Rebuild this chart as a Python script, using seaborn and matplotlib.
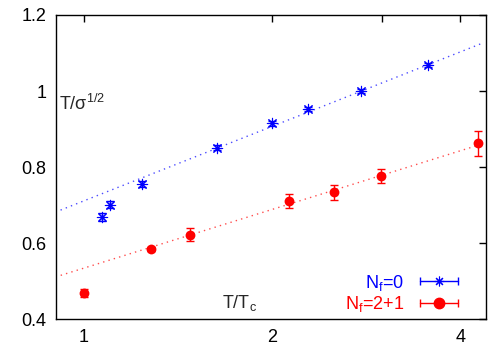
import numpy as np
import matplotlib
matplotlib.use("Agg")
import matplotlib.pyplot as plt
import seaborn as sns
from matplotlib.lines import Line2D
from matplotlib.legend_handler import HandlerLine2D

# Nf=0 (quenched)
t_nf0 = [1.067, 1.102, 1.238, 1.633, 2.0, 2.28, 2.77, 3.55]
y_nf0 = [0.668, 0.701, 0.755, 0.851, 0.915, 0.953, 1.0, 1.068]
e_nf0 = [0.011, 0.010, 0.008, 0.006, 0.006, 0.006, 0.006, 0.006]

# Nf=2+1
t_nf21 = [1.0, 1.279, 1.478, 2.13, 2.51, 2.99, 4.26]
y_nf21 = [0.468, 0.585, 0.622, 0.710, 0.733, 0.776, 0.862]
e_nf21 = [0.011, 0.005, 0.018, 0.018, 0.019, 0.018, 0.032]

# fit lines y = a + b*log2(T/Tc)
fit_nf0 = (0.711, 0.196)
fit_nf21 = (0.534, 0.1544)
fit_range = (0.9, 4.36)

x_ticks = [1, 2, 3, 4]
x_ticklabels = ["1", "2", "", "4"]
y_ticks = [0.4, 0.6, 0.8, 1.0, 1.2]
y_ticklabels = ["0.4", "0.6", "0.8", "1", "1.2"]

sns.set_style("white")
plt.rcParams["font.family"] = ["Liberation Sans", "DejaVu Sans"]
plt.rcParams["mathtext.fontset"] = "custom"
plt.rcParams["mathtext.rm"] = "Liberation Sans"
plt.rcParams["mathtext.it"] = "Liberation Sans"
plt.rcParams["font.size"] = 13

blue = "#0000ff"
red = "#ff0000"

fig = plt.figure(figsize=(4.98, 3.48), dpi=100)
ax = fig.add_axes([0.1124, 0.0833, 0.8629, 0.8736])
ax.set_xscale("log")

tt = np.geomspace(fit_range[0], fit_range[1], 100)
sns.lineplot(x=tt, y=fit_nf0[0] + fit_nf0[1] * np.log2(tt), ax=ax,
             color=blue, lw=1, ls=(0, (1, 3)), alpha=0.7)
sns.lineplot(x=tt, y=fit_nf21[0] + fit_nf21[1] * np.log2(tt), ax=ax,
             color=red, lw=1, ls=(0, (1, 3)), alpha=0.7)

ax.errorbar(t_nf0, y_nf0, yerr=e_nf0, fmt="none", ecolor=blue,
            elinewidth=1, capsize=3)
sns.scatterplot(x=t_nf0, y=y_nf0, ax=ax, marker=(8, 2, 0), s=55,
                color=blue, linewidth=0.8, zorder=3)
ax.errorbar(t_nf21, y_nf21, yerr=e_nf21, fmt="none", ecolor=red,
            elinewidth=1, capsize=3)
sns.scatterplot(x=t_nf21, y=y_nf21, ax=ax, marker="o", s=50,
                color=red, edgecolor=red, linewidth=0, zorder=3)

ax.set_xlim(0.902, 4.39)
ax.set_ylim(0.4, 1.2)
ax.set_xticks(x_ticks)
ax.set_xticklabels(x_ticklabels)
ax.minorticks_off()
ax.set_yticks(y_ticks)
ax.set_yticklabels(y_ticklabels)
ax.tick_params(direction="in", length=5, width=1, top=True, right=True,
               labelsize=13, colors="black", pad=7)
for sp in ax.spines.values():
    sp.set_visible(True)
    sp.set_color("black")
    sp.set_linewidth(1)

ax.text(0.912, 0.966, "T/σ$^{1/2}$", fontsize=13, va="center", ha="left")
ax.text(1.66, 0.442, "T/T$_\\mathrm{c}$", fontsize=13, va="center", ha="left")

# gnuplot style key
caps0 = Line2D([], [], color=blue, lw=1, marker="|", ms=6, mew=1)
mark0 = Line2D([], [], color=blue, lw=0, marker=(8, 2, 0), ms=7, mew=0.8)
caps1 = Line2D([], [], color=red, lw=1, marker="|", ms=6, mew=1)
mark1 = Line2D([], [], color=red, lw=0, marker="o", ms=7.5)
hm = {caps0: HandlerLine2D(numpoints=2), caps1: HandlerLine2D(numpoints=2),
      mark0: HandlerLine2D(numpoints=1), mark1: HandlerLine2D(numpoints=1)}
leg = ax.legend([(caps0, mark0), (caps1, mark1)],
                ["N$_\\mathrm{f}$=0", "N$_\\mathrm{f}$=2+1"],
                handler_map=hm, loc="lower right", bbox_to_anchor=(0.949, 0.015),
                frameon=False, markerfirst=False, handlelength=2.75,
                handletextpad=0.55, labelspacing=0.1, borderaxespad=0,
                borderpad=0, fontsize=13)
for txt, c in zip(leg.get_texts(), [blue, red]):
    txt.set_color(c)

fig.savefig("out.png", dpi=100)
